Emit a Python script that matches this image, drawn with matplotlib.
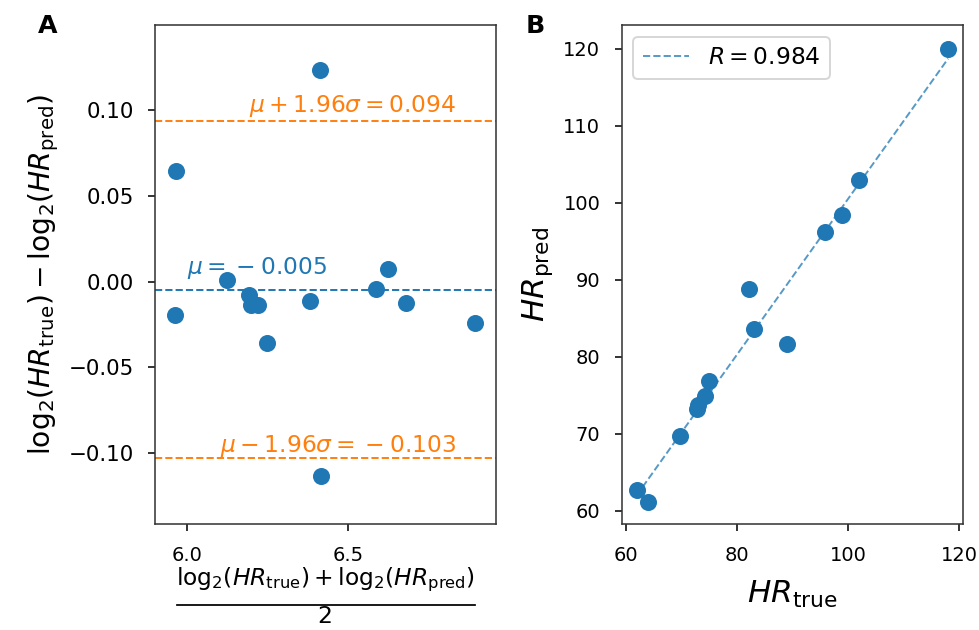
import numpy as np
import matplotlib
matplotlib.use("Agg")
import matplotlib.pyplot as plt
from matplotlib.lines import Line2D

# Heart rate per recording: reference measurement and model prediction (bpm)
hr_true = [118.0, 102.0, 98.9, 95.9, 82.1, 82.96, 88.9, 75.0, 74.2, 73.0, 72.8, 69.75, 61.9, 63.9]
hr_pred = [120.0, 102.9, 98.4, 96.2, 88.8, 83.6, 81.6, 76.9, 74.9, 73.7, 73.2, 69.7, 62.75, 61.1]

# Agreement statistics shown on the Bland-Altman panel
mean_diff = -0.005
upper_loa = 0.094
lower_loa = -0.103
pearson_r = 0.984

ba_xticks = [6.0, 6.5]
ba_yticks = [-0.10, -0.05, 0.00, 0.05, 0.10]
sc_xticks = [60, 80, 100, 120]
sc_yticks = [60, 70, 80, 90, 100, 110, 120]

blue = "#1f77b4"
orange = "#ff7f0e"

t = np.array(hr_true)
p = np.array(hr_pred)
log_mean = (np.log2(t) + np.log2(p)) / 2
log_diff = np.log2(t) - np.log2(p)


def signed(v):
    """Format a value for mathtext with a spaced minus sign."""
    return (r"\:-\:" if v < 0 else "") + f"{abs(v):.3f}"


W, H = 979, 630
fig = plt.figure(figsize=(W / 140, H / 140), dpi=140)
ax_a = fig.add_axes([0.1583, 0.1687, 0.3480, 0.7910])
ax_b = fig.add_axes([0.6350, 0.1687, 0.3489, 0.7910])

# --- A: Bland-Altman plot in log2 space ---
ax_a.scatter(log_mean, log_diff, s=60, color=blue, zorder=3)
ax_a.axhline(mean_diff, color=blue, ls="--", lw=1)
ax_a.axhline(upper_loa, color=orange, ls="--", lw=1)
ax_a.axhline(lower_loa, color=orange, ls="--", lw=1)
ax_a.text(6.0, mean_diff + 0.0095, rf"$\mu = {signed(mean_diff)}$", color=blue,
          fontsize=12, ha="left", va="baseline")
ax_a.text(6.834, upper_loa + 0.005, rf"$\mu + 1.96\sigma = {signed(upper_loa)}$", color=orange,
          fontsize=12, ha="right", va="baseline")
ax_a.text(6.834, lower_loa + 0.0035, rf"$\mu - 1.96\sigma = {signed(lower_loa)}$", color=orange,
          fontsize=12, ha="right", va="baseline")
ax_a.set_xlim(5.899, 6.958)
ax_a.set_ylim(-0.1413, 0.1496)
ax_a.set_xticks(ba_xticks)
ax_a.set_yticks(ba_yticks)
ax_a.set_xticklabels([f"{v:.1f}" for v in ba_xticks])
ax_a.set_yticklabels([f"{v:.2f}".replace("-", "\u2212") for v in ba_yticks])
ax_a.set_ylabel(r"$\mathrm{log}_2(HR_{\rm true}) - \mathrm{log}_2(HR_{\rm pred})$", fontsize=14.5,
                labelpad=4)
ax_a.tick_params(axis="x", labelsize=10, pad=8)
ax_a.tick_params(axis="y", labelsize=11, pad=7.5)

# x label of A: mean of the two log2 rates, written as a fraction
num = r"$\mathrm{log}_2(HR_{\rm true}) + \mathrm{log}_2(HR_{\rm pred})$"
fig.text(326 / W, 1 - 585 / H, num, fontsize=12, ha="center", va="baseline")
fig.add_artist(Line2D([177 / W, 475 / W], [1 - 605 / H] * 2, transform=fig.transFigure,
                      color="black", lw=0.9))
fig.text(325 / W, 1 - 623 / H, "2", fontsize=12, ha="center", va="baseline")

# --- B: predicted vs. true heart rate with linear fit ---
ax_b.scatter(t, p, s=60, color=blue, zorder=3)
slope, intercept = np.polyfit(t, p, 1)
xs = np.sort(t)
ax_b.plot(xs, slope * xs + intercept, ls="--", lw=1, color=blue, alpha=0.75,
          label=rf"$R = {pearson_r:.3f}$")
ax_b.legend(loc="upper left", fontsize=12)
ax_b.set_xlim(59.22, 120.72)
ax_b.set_ylim(58.31, 123.03)
ax_b.set_xticks(sc_xticks)
ax_b.set_yticks(sc_yticks)
ax_b.set_xlabel(r"$HR_{\rm true}$", fontsize=16, labelpad=7)
ax_b.set_ylabel(r"$HR_{\rm pred}$", fontsize=16, labelpad=4)
ax_b.tick_params(axis="x", labelsize=10, pad=8)
ax_b.tick_params(axis="y", labelsize=10, pad=7.5)

for ax in (ax_a, ax_b):
    for sp in ax.spines.values():
        sp.set_color("0.2")

fig.text(38 / W, 1 - 33 / H, "A", fontsize=13, fontweight="bold", ha="left", va="baseline")
fig.text(526 / W, 1 - 33 / H, "B", fontsize=13, fontweight="bold", ha="left", va="baseline")

fig.savefig("out.png", dpi=140)
